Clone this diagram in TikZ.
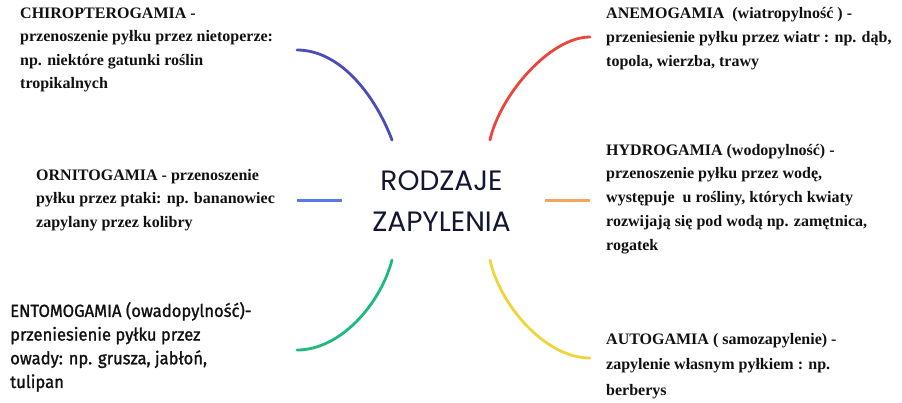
\documentclass[tikz,border=0pt]{standalone}
\usepackage{fontspec}
\setmainfont{Liberation Serif}
\newfontfamily\sansent{Fira Sans}[FakeBold=1.2, FakeStretch=0.95]
\newfontfamily\titlef{Poppins}
\definecolor{cBlue}{HTML}{4C4CB8}
\definecolor{cRed}{HTML}{E9463C}
\definecolor{cBlueL}{HTML}{5B78E8}
\definecolor{cOrange}{HTML}{F4A45C}
\definecolor{cGreen}{HTML}{1DBA7D}
\definecolor{cYellow}{HTML}{EFD43C}
\definecolor{navy}{HTML}{121633}
\definecolor{txt}{HTML}{111111}
\begin{document}
\begin{tikzpicture}[x=1pt,y=-1pt,
  desc/.style={anchor=north west, inner sep=0pt, align=left, text=txt},
  serifdesc/.style={desc, font=\bfseries\fontsize{16}{#1}\selectfont},
  branch/.style={line width=2.8pt, line cap=round},
  stub/.style={line width=3pt}]
\useasboundingbox[fill=white] (0,0) rectangle (902,402);

% centre
\node[font=\titlef\fontsize{28}{41.7}\selectfont, text=navy, align=center, anchor=north, inner sep=0pt]
  (title) at (441.5,160.8) {\strut RODZAJE\\ZAPYLENIA};

% descriptions
\node[serifdesc=23.3] (chiro) at (20,2)
  {\strut CHIROPTEROGAMIA -\\przenoszenie pyłku przez nietoperze:\\np. niektóre gatunki roślin\\tropikalnych};
\node[serifdesc=24] (anemo) at (606,1.5)
  {\strut ANEMOGAMIA\ \ (wiatropylność ) -\\przeniesienie pyłku przez wiatr : np. dąb,\\topola, wierzba, trawy};
\node[serifdesc=23.5] (ornito) at (36,163.5)
  {\strut ORNITOGAMIA - przenoszenie\\pyłku przez ptaki: np. bananowiec\\zapylany przez kolibry};
\node[serifdesc=23.75] (hydro) at (606,138.4)
  {\strut HYDROGAMIA (wodopylność) -\\przenoszenie pyłku przez wodę,\\występuje\ \ u rośliny, których kwiaty\\rozwijają się pod wodą np. zamętnica,\\rogatek};
\node[desc, font=\sansent\fontsize{17.5}{23.7}\selectfont] (ento) at (10,300.1)
  {\strut ENTOMOGAMIA (owadopylność)-\\przeniesienie pyłku przez\\owady: np. grusza, jabłoń,\\tulipan};
\node[serifdesc=25.5] (auto) at (606,326.2)
  {\strut AUTOGAMIA ( samozapylenie) -\\zapylenie własnym pyłkiem : np.\\berberys};

% branch end points
\coordinate (b1) at (297,50);   \coordinate (b2) at (392,140);
\coordinate (r1) at (490,140);  \coordinate (r2) at (590,37);
\coordinate (g1) at (297,350);  \coordinate (g2) at (392,260);
\coordinate (y1) at (490,260);  \coordinate (y2) at (590,358);
\coordinate (l1) at (297,200);  \coordinate (l2) at (342,200);
\coordinate (o1) at (545,200);  \coordinate (o2) at (590,200);

\draw[branch, cBlue]   (b1) .. controls (340,50) and (375,95) .. (b2);
\draw[branch, cRed]    (r1) .. controls (500,95) and (550,37) .. (r2);
\draw[branch, cGreen]  (g1) .. controls (340,350) and (380,305) .. (g2);
\draw[branch, cYellow] (y1) .. controls (500,305) and (545,358) .. (y2);
\draw[stub, cBlueL]  (l1) -- (l2);
\draw[stub, cOrange] (o1) -- (o2);
\end{tikzpicture}
\end{document}
